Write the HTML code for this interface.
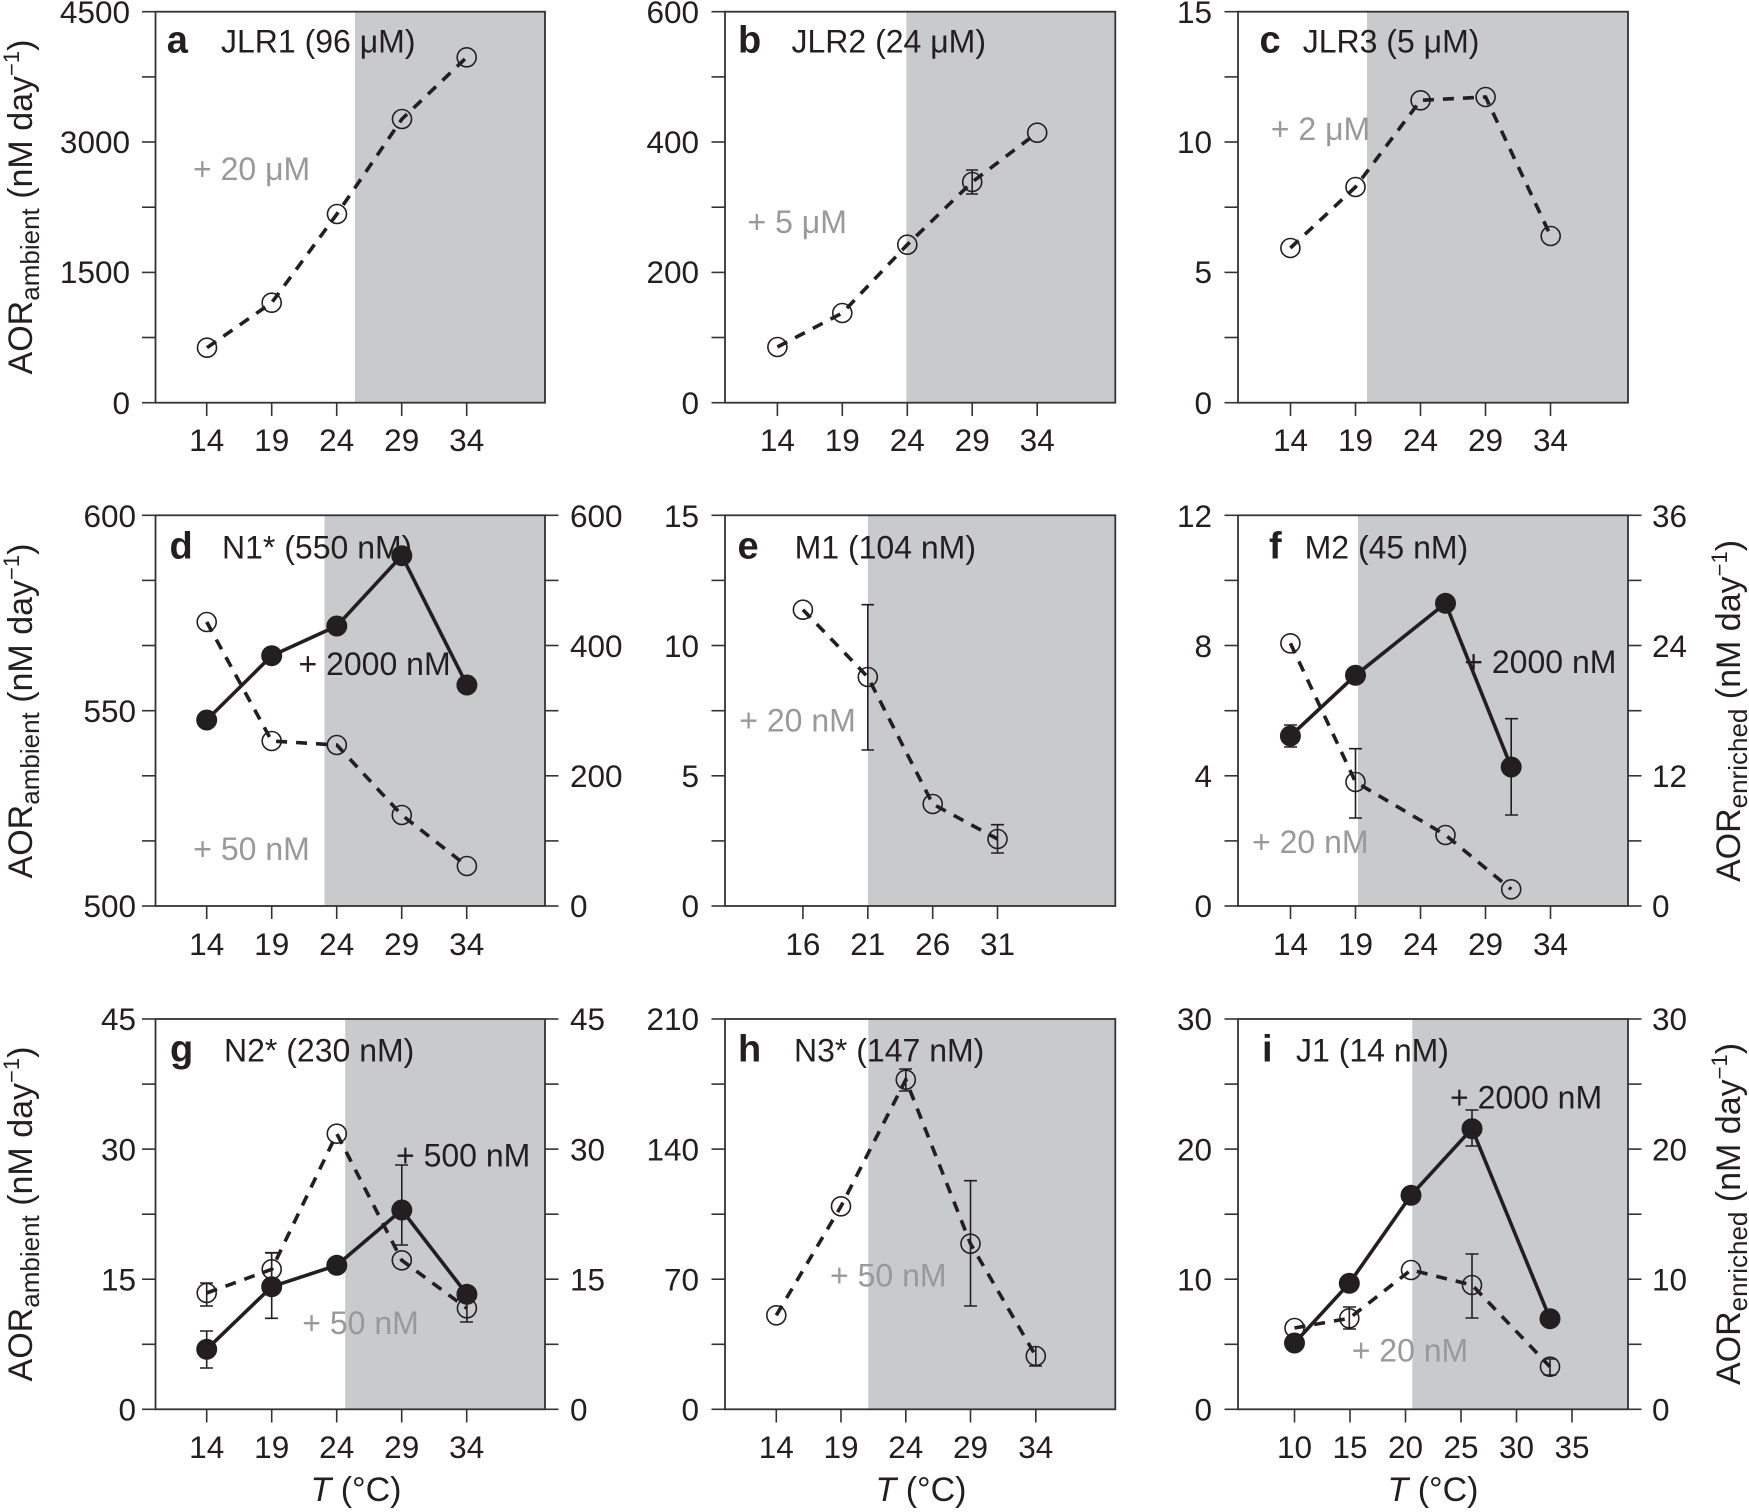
<!DOCTYPE html>
<html><head><meta charset="utf-8"><style>
html,body{margin:0;padding:0;background:#fff}
svg{display:block}
text{font-family:"Liberation Sans",Arial,sans-serif;fill:#231f20}
.tk{font-size:31.5px}
.tt{font-size:32px}
.bl{font-size:38px;font-weight:bold}
.an{font-size:32px}
.gr{fill:#999}
.ax{font-size:34px}
.fr{fill:none;stroke:#333;stroke-width:1.8}
.t{stroke:#333;stroke-width:1.6}
.sh{fill:#c9cacc}
.ds{fill:none;stroke:#231f20;stroke-width:3.6;stroke-dasharray:11 9}
.so{fill:none;stroke:#231f20;stroke-width:3.6}
.oc{fill:none;stroke:#231f20;stroke-width:1.6}
.fc{fill:#231f20}
.eb{stroke:#231f20;stroke-width:1.6;fill:none}
</style></head><body>
<svg width="1749" height="1512" viewBox="0 0 1749 1512" xmlns="http://www.w3.org/2000/svg">

<!-- ============ Row 1 ============ -->
<!-- a -->
<rect class="sh" x="355" y="11.7" width="190" height="391"/>
<rect class="fr" x="155.5" y="11.7" width="389.5" height="391"/>
<g class="t">
<line x1="142" y1="402.7" x2="155.5" y2="402.7"/><line x1="142" y1="337.5" x2="155.5" y2="337.5"/><line x1="142" y1="272.4" x2="155.5" y2="272.4"/><line x1="142" y1="207.2" x2="155.5" y2="207.2"/><line x1="142" y1="142" x2="155.5" y2="142"/><line x1="142" y1="76.9" x2="155.5" y2="76.9"/><line x1="142" y1="11.7" x2="155.5" y2="11.7"/>
<line x1="206.7" y1="402.7" x2="206.7" y2="416"/><line x1="271.7" y1="402.7" x2="271.7" y2="416"/><line x1="336.7" y1="402.7" x2="336.7" y2="416"/><line x1="401.7" y1="402.7" x2="401.7" y2="416"/><line x1="466.7" y1="402.7" x2="466.7" y2="416"/>
</g>
<g class="tk" text-anchor="end"><text x="130" y="414">0</text><text x="130" y="283">1500</text><text x="130" y="153">3000</text><text x="130" y="23">4500</text></g>
<g class="tk" text-anchor="middle"><text x="206.7" y="451">14</text><text x="271.7" y="451">19</text><text x="336.7" y="451">24</text><text x="401.7" y="451">29</text><text x="466.7" y="451">34</text></g>
<text class="bl" x="166.7" y="52.7">a</text><text class="tt" x="221" y="52.7">JLR1 (96 μM)</text>
<text class="an gr" x="193" y="180">+ 20 μM</text>
<polyline class="ds" points="207,347.7 271.7,302.7 337,214 402,119 466.7,57.3"/>
<g class="oc"><circle cx="207" cy="347.7" r="9.5"/><circle cx="271.7" cy="302.7" r="9.5"/><circle cx="337" cy="214" r="9.5"/><circle cx="402" cy="119" r="9.5"/><circle cx="466.7" cy="57.3" r="9.5"/></g>

<!-- b -->
<rect class="sh" x="906.3" y="11.7" width="209" height="391"/>
<rect class="fr" x="725" y="11.7" width="390.3" height="391"/>
<g class="t">
<line x1="711.5" y1="402.7" x2="725" y2="402.7"/><line x1="711.5" y1="337.5" x2="725" y2="337.5"/><line x1="711.5" y1="272.4" x2="725" y2="272.4"/><line x1="711.5" y1="207.2" x2="725" y2="207.2"/><line x1="711.5" y1="142" x2="725" y2="142"/><line x1="711.5" y1="76.9" x2="725" y2="76.9"/><line x1="711.5" y1="11.7" x2="725" y2="11.7"/>
<line x1="777.4" y1="402.7" x2="777.4" y2="416"/><line x1="842.3" y1="402.7" x2="842.3" y2="416"/><line x1="907.3" y1="402.7" x2="907.3" y2="416"/><line x1="972.2" y1="402.7" x2="972.2" y2="416"/><line x1="1037.2" y1="402.7" x2="1037.2" y2="416"/>
</g>
<g class="tk" text-anchor="end"><text x="699" y="414">0</text><text x="699" y="283">200</text><text x="699" y="153">400</text><text x="699" y="23">600</text></g>
<g class="tk" text-anchor="middle"><text x="777.4" y="451">14</text><text x="842.3" y="451">19</text><text x="907.3" y="451">24</text><text x="972.2" y="451">29</text><text x="1037.2" y="451">34</text></g>
<text class="bl" x="738" y="52.7">b</text><text class="tt" x="791.5" y="52.7">JLR2 (24 μM)</text>
<text class="an gr" x="747.5" y="233">+ 5 μM</text>
<polyline class="ds" points="777.4,347 842.3,313 907.3,244.7 972.2,182 1037.2,132.7"/>
<g class="oc"><circle cx="777.4" cy="347" r="9.5"/><circle cx="842.3" cy="313" r="9.5"/><circle cx="907.3" cy="244.7" r="9.5"/><circle cx="972.2" cy="182" r="9.5"/><circle cx="1037.2" cy="132.7" r="9.5"/></g>
<path class="eb" d="M972.2 170V194M966 170H978M966 194H978"/>

<!-- c -->
<rect class="sh" x="1367" y="11.7" width="261" height="391"/>
<rect class="fr" x="1238" y="11.7" width="390" height="391"/>
<g class="t">
<line x1="1224.5" y1="402.7" x2="1238" y2="402.7"/><line x1="1224.5" y1="337.5" x2="1238" y2="337.5"/><line x1="1224.5" y1="272.4" x2="1238" y2="272.4"/><line x1="1224.5" y1="207.2" x2="1238" y2="207.2"/><line x1="1224.5" y1="142" x2="1238" y2="142"/><line x1="1224.5" y1="76.9" x2="1238" y2="76.9"/><line x1="1224.5" y1="11.7" x2="1238" y2="11.7"/>
<line x1="1290.5" y1="402.7" x2="1290.5" y2="416"/><line x1="1355.5" y1="402.7" x2="1355.5" y2="416"/><line x1="1420.5" y1="402.7" x2="1420.5" y2="416"/><line x1="1485.5" y1="402.7" x2="1485.5" y2="416"/><line x1="1550.5" y1="402.7" x2="1550.5" y2="416"/>
</g>
<g class="tk" text-anchor="end"><text x="1212" y="414">0</text><text x="1212" y="283">5</text><text x="1212" y="153">10</text><text x="1212" y="23">15</text></g>
<g class="tk" text-anchor="middle"><text x="1290.5" y="451">14</text><text x="1355.5" y="451">19</text><text x="1420.5" y="451">24</text><text x="1485.5" y="451">29</text><text x="1550.5" y="451">34</text></g>
<text class="bl" x="1259.5" y="52.7">c</text><text class="tt" x="1302.7" y="52.7">JLR3 (5 μM)</text>
<text class="an gr" x="1270.8" y="140">+ 2 μM</text>
<polyline class="ds" points="1290.4,248 1355.5,187 1420.6,100.3 1485.6,97 1550.7,236"/>
<g class="oc"><circle cx="1290.4" cy="248" r="9.5"/><circle cx="1355.5" cy="187" r="9.5"/><circle cx="1420.6" cy="100.3" r="9.5"/><circle cx="1485.6" cy="97" r="9.5"/><circle cx="1550.7" cy="236" r="9.5"/></g>

<!-- row1 y label -->
<text class="ax" transform="translate(32,207) rotate(-90)" text-anchor="middle">AOR<tspan font-size="26" dy="7">ambient</tspan><tspan dy="-7"> (nM day</tspan><tspan font-size="22" dy="-13">−1</tspan><tspan dy="13">)</tspan></text>

<!-- ============ Row 2 ============ -->
<!-- d -->
<rect class="sh" x="324.5" y="515.3" width="220.5" height="390.7"/>
<rect class="fr" x="155.5" y="515.3" width="389.5" height="390.7"/>
<g class="t">
<line x1="142" y1="906" x2="155.5" y2="906"/><line x1="142" y1="840.9" x2="155.5" y2="840.9"/><line x1="142" y1="775.8" x2="155.5" y2="775.8"/><line x1="142" y1="710.7" x2="155.5" y2="710.7"/><line x1="142" y1="645.5" x2="155.5" y2="645.5"/><line x1="142" y1="580.4" x2="155.5" y2="580.4"/><line x1="142" y1="515.3" x2="155.5" y2="515.3"/>
<line x1="545" y1="906" x2="558.5" y2="906"/><line x1="545" y1="840.9" x2="558.5" y2="840.9"/><line x1="545" y1="775.8" x2="558.5" y2="775.8"/><line x1="545" y1="710.7" x2="558.5" y2="710.7"/><line x1="545" y1="645.5" x2="558.5" y2="645.5"/><line x1="545" y1="580.4" x2="558.5" y2="580.4"/><line x1="545" y1="515.3" x2="558.5" y2="515.3"/>
<line x1="206.7" y1="906" x2="206.7" y2="919"/><line x1="271.7" y1="906" x2="271.7" y2="919"/><line x1="336.7" y1="906" x2="336.7" y2="919"/><line x1="401.7" y1="906" x2="401.7" y2="919"/><line x1="466.7" y1="906" x2="466.7" y2="919"/>
</g>
<g class="tk" text-anchor="end"><text x="136" y="917">500</text><text x="136" y="722">550</text><text x="136" y="527">600</text></g>
<g class="tk"><text x="570" y="917">0</text><text x="570" y="787">200</text><text x="570" y="657">400</text><text x="570" y="527">600</text></g>
<g class="tk" text-anchor="middle"><text x="206.7" y="955">14</text><text x="271.7" y="955">19</text><text x="336.7" y="955">24</text><text x="401.7" y="955">29</text><text x="466.7" y="955">34</text></g>
<text class="bl" x="169.5" y="558.3">d</text><text class="tt" x="222" y="558.3">N1* (550 nM)</text>
<text class="an" x="298.5" y="675">+ 2000 nM</text>
<text class="an gr" x="193.3" y="860">+ 50 nM</text>
<polyline class="ds" points="206.7,622 271.7,741 336.8,745 401.8,815 466.9,866"/>
<g class="oc"><circle cx="206.7" cy="622" r="9.5"/><circle cx="271.7" cy="741" r="9.5"/><circle cx="336.8" cy="745" r="9.5"/><circle cx="401.8" cy="815" r="9.5"/><circle cx="466.9" cy="866" r="9.5"/></g>
<polyline class="so" points="206.7,720 271.7,655.7 336.8,626 401.8,555.7 466.9,685"/>
<g class="fc"><circle cx="206.7" cy="720" r="10.5"/><circle cx="271.7" cy="655.7" r="10.5"/><circle cx="336.8" cy="626" r="10.5"/><circle cx="401.8" cy="555.7" r="10.5"/><circle cx="466.9" cy="685" r="10.5"/></g>

<!-- e -->
<rect class="sh" x="867.9" y="515.3" width="247.4" height="390.7"/>
<rect class="fr" x="725" y="515.3" width="390.3" height="390.7"/>
<g class="t">
<line x1="711.5" y1="906" x2="725" y2="906"/><line x1="711.5" y1="840.9" x2="725" y2="840.9"/><line x1="711.5" y1="775.8" x2="725" y2="775.8"/><line x1="711.5" y1="710.7" x2="725" y2="710.7"/><line x1="711.5" y1="645.5" x2="725" y2="645.5"/><line x1="711.5" y1="580.4" x2="725" y2="580.4"/><line x1="711.5" y1="515.3" x2="725" y2="515.3"/>
<line x1="802.9" y1="906" x2="802.9" y2="919"/><line x1="867.8" y1="906" x2="867.8" y2="919"/><line x1="932.7" y1="906" x2="932.7" y2="919"/><line x1="997.5" y1="906" x2="997.5" y2="919"/>
</g>
<g class="tk" text-anchor="end"><text x="699" y="917">0</text><text x="699" y="787">5</text><text x="699" y="657">10</text><text x="699" y="527">15</text></g>
<g class="tk" text-anchor="middle"><text x="802.9" y="955">16</text><text x="867.8" y="955">21</text><text x="932.7" y="955">26</text><text x="997.5" y="955">31</text></g>
<text class="bl" x="737.5" y="558.3">e</text><text class="tt" x="794.6" y="558.3">M1 (104 nM)</text>
<text class="an gr" x="739.3" y="731.7">+ 20 nM</text>
<polyline class="ds" points="802.9,609.7 867.8,677 932.7,804 997.5,839"/>
<g class="oc"><circle cx="802.9" cy="609.7" r="9.5"/><circle cx="867.8" cy="677" r="9.5"/><circle cx="932.7" cy="804" r="9.5"/><circle cx="997.5" cy="839" r="9.5"/></g>
<path class="eb" d="M867.8 604.7V750M861.5 604.7H874M861.5 750H874M997.5 824.7V853M991 824.7H1004M991 853H1004"/>

<!-- f -->
<rect class="sh" x="1358" y="515.3" width="270" height="390.7"/>
<rect class="fr" x="1238" y="515.3" width="390" height="390.7"/>
<g class="t">
<line x1="1224.5" y1="906" x2="1238" y2="906"/><line x1="1224.5" y1="840.9" x2="1238" y2="840.9"/><line x1="1224.5" y1="775.8" x2="1238" y2="775.8"/><line x1="1224.5" y1="710.7" x2="1238" y2="710.7"/><line x1="1224.5" y1="645.5" x2="1238" y2="645.5"/><line x1="1224.5" y1="580.4" x2="1238" y2="580.4"/><line x1="1224.5" y1="515.3" x2="1238" y2="515.3"/>
<line x1="1628" y1="906" x2="1641.5" y2="906"/><line x1="1628" y1="840.9" x2="1641.5" y2="840.9"/><line x1="1628" y1="775.8" x2="1641.5" y2="775.8"/><line x1="1628" y1="710.7" x2="1641.5" y2="710.7"/><line x1="1628" y1="645.5" x2="1641.5" y2="645.5"/><line x1="1628" y1="580.4" x2="1641.5" y2="580.4"/><line x1="1628" y1="515.3" x2="1641.5" y2="515.3"/>
<line x1="1290.5" y1="906" x2="1290.5" y2="919"/><line x1="1355.5" y1="906" x2="1355.5" y2="919"/><line x1="1420.5" y1="906" x2="1420.5" y2="919"/><line x1="1485.5" y1="906" x2="1485.5" y2="919"/><line x1="1550.5" y1="906" x2="1550.5" y2="919"/>
</g>
<g class="tk" text-anchor="end"><text x="1212" y="917">0</text><text x="1212" y="787">4</text><text x="1212" y="657">8</text><text x="1212" y="527">12</text></g>
<g class="tk"><text x="1652" y="917">0</text><text x="1652" y="787">12</text><text x="1652" y="657">24</text><text x="1652" y="527">36</text></g>
<g class="tk" text-anchor="middle"><text x="1290.5" y="955">14</text><text x="1355.5" y="955">19</text><text x="1420.5" y="955">24</text><text x="1485.5" y="955">29</text><text x="1550.5" y="955">34</text></g>
<text class="bl" x="1269" y="558.3">f</text><text class="tt" x="1304.6" y="558.3">M2 (45 nM)</text>
<text class="an" x="1464.3" y="673">+ 2000 nM</text>
<text class="an gr" x="1252" y="853">+ 20 nM</text>
<polyline class="ds" points="1290.4,643.3 1355.5,782 1445.5,835 1511.2,889.3"/>
<g class="oc"><circle cx="1290.4" cy="643.3" r="9.5"/><circle cx="1355.5" cy="782" r="9.5"/><circle cx="1445.5" cy="835" r="9.5"/><circle cx="1511.2" cy="889.3" r="9.5"/></g>
<path class="eb" d="M1355.5 748.7V818M1349 748.7H1362M1349 818H1362"/>
<polyline class="so" points="1290.4,736 1355.5,675.3 1445.5,603.3 1511.2,767"/>
<path class="eb" d="M1290.4 725V747M1284 725H1297M1284 747H1297M1511.2 718.7V815M1505 718.7H1518M1505 815H1518"/>
<g class="fc"><circle cx="1290.4" cy="736" r="10.5"/><circle cx="1355.5" cy="675.3" r="10.5"/><circle cx="1445.5" cy="603.3" r="10.5"/><circle cx="1511.2" cy="767" r="10.5"/></g>

<text class="ax" transform="translate(32,711) rotate(-90)" text-anchor="middle">AOR<tspan font-size="26" dy="7">ambient</tspan><tspan dy="-7"> (nM day</tspan><tspan font-size="22" dy="-13">−1</tspan><tspan dy="13">)</tspan></text>
<text class="ax" transform="translate(1740,711) rotate(-90)" text-anchor="middle">AOR<tspan font-size="26" dy="7">enriched</tspan><tspan dy="-7"> (nM day</tspan><tspan font-size="22" dy="-13">−1</tspan><tspan dy="13">)</tspan></text>

<!-- ============ Row 3 ============ -->
<!-- g -->
<rect class="sh" x="345.2" y="1019" width="199.8" height="390.3"/>
<rect class="fr" x="155.5" y="1019" width="389.5" height="390.3"/>
<g class="t">
<line x1="142" y1="1409.3" x2="155.5" y2="1409.3"/><line x1="142" y1="1344.3" x2="155.5" y2="1344.3"/><line x1="142" y1="1279.2" x2="155.5" y2="1279.2"/><line x1="142" y1="1214.2" x2="155.5" y2="1214.2"/><line x1="142" y1="1149.1" x2="155.5" y2="1149.1"/><line x1="142" y1="1084.1" x2="155.5" y2="1084.1"/><line x1="142" y1="1019" x2="155.5" y2="1019"/>
<line x1="545" y1="1409.3" x2="558.5" y2="1409.3"/><line x1="545" y1="1344.3" x2="558.5" y2="1344.3"/><line x1="545" y1="1279.2" x2="558.5" y2="1279.2"/><line x1="545" y1="1214.2" x2="558.5" y2="1214.2"/><line x1="545" y1="1149.1" x2="558.5" y2="1149.1"/><line x1="545" y1="1084.1" x2="558.5" y2="1084.1"/><line x1="545" y1="1019" x2="558.5" y2="1019"/>
<line x1="206.7" y1="1409.3" x2="206.7" y2="1422.5"/><line x1="271.7" y1="1409.3" x2="271.7" y2="1422.5"/><line x1="336.7" y1="1409.3" x2="336.7" y2="1422.5"/><line x1="401.7" y1="1409.3" x2="401.7" y2="1422.5"/><line x1="466.7" y1="1409.3" x2="466.7" y2="1422.5"/>
</g>
<g class="tk" text-anchor="end"><text x="136" y="1420.5">0</text><text x="136" y="1290.4">15</text><text x="136" y="1160.3">30</text><text x="136" y="1030.2">45</text></g>
<g class="tk"><text x="570" y="1420.5">0</text><text x="570" y="1290.4">15</text><text x="570" y="1160.3">30</text><text x="570" y="1030.2">45</text></g>
<g class="tk" text-anchor="middle"><text x="206.7" y="1458">14</text><text x="271.7" y="1458">19</text><text x="336.7" y="1458">24</text><text x="401.7" y="1458">29</text><text x="466.7" y="1458">34</text></g>
<text class="bl" x="170" y="1061.7">g</text><text class="tt" x="224" y="1061.7">N2* (230 nM)</text>
<text class="an" x="396" y="1166.7">+ 500 nM</text>
<text class="an gr" x="302.3" y="1334">+ 50 nM</text>
<polyline class="ds" points="206.7,1293 271.7,1269.3 336.8,1133.7 401.8,1260.3 466.9,1308.3"/>
<g class="oc"><circle cx="206.7" cy="1293" r="9.5"/><circle cx="271.7" cy="1269.3" r="9.5"/><circle cx="336.8" cy="1133.7" r="9.5"/><circle cx="401.8" cy="1260.3" r="9.5"/><circle cx="466.9" cy="1308.3" r="9.5"/></g>
<path class="eb" d="M206.7 1283V1306M200 1283H213M200 1306H213M271.7 1253V1284M265 1253H278M466.9 1292V1322M460 1322H473"/>
<polyline class="so" points="206.7,1349.3 271.7,1286.7 336.8,1265.3 401.8,1210 466.9,1294.3"/>
<path class="eb" d="M206.7 1331V1368M200 1331H213M200 1368H213M271.7 1252.7V1318.3M265 1252.7H278M265 1318.3H278M401.8 1165V1245M395 1165H408M395 1245H408"/>
<g class="fc"><circle cx="206.7" cy="1349.3" r="10.5"/><circle cx="271.7" cy="1286.7" r="10.5"/><circle cx="336.8" cy="1265.3" r="10.5"/><circle cx="401.8" cy="1210" r="10.5"/><circle cx="466.9" cy="1294.3" r="10.5"/></g>

<!-- h -->
<rect class="sh" x="868.3" y="1019" width="247" height="390.3"/>
<rect class="fr" x="725" y="1019" width="390.3" height="390.3"/>
<g class="t">
<line x1="711.5" y1="1409.3" x2="725" y2="1409.3"/><line x1="711.5" y1="1344.3" x2="725" y2="1344.3"/><line x1="711.5" y1="1279.2" x2="725" y2="1279.2"/><line x1="711.5" y1="1214.2" x2="725" y2="1214.2"/><line x1="711.5" y1="1149.1" x2="725" y2="1149.1"/><line x1="711.5" y1="1084.1" x2="725" y2="1084.1"/><line x1="711.5" y1="1019" x2="725" y2="1019"/>
<line x1="776.3" y1="1409.3" x2="776.3" y2="1422.5"/><line x1="841" y1="1409.3" x2="841" y2="1422.5"/><line x1="905.8" y1="1409.3" x2="905.8" y2="1422.5"/><line x1="970.5" y1="1409.3" x2="970.5" y2="1422.5"/><line x1="1035.8" y1="1409.3" x2="1035.8" y2="1422.5"/>
</g>
<g class="tk" text-anchor="end"><text x="699" y="1420.5">0</text><text x="699" y="1290.4">70</text><text x="699" y="1160.3">140</text><text x="699" y="1030.2">210</text></g>
<g class="tk" text-anchor="middle"><text x="776.3" y="1458">14</text><text x="841" y="1458">19</text><text x="905.8" y="1458">24</text><text x="970.5" y="1458">29</text><text x="1035.8" y="1458">34</text></g>
<text class="bl" x="738" y="1061.7">h</text><text class="tt" x="794" y="1061.7">N3* (147 nM)</text>
<text class="an gr" x="830" y="1286.7">+ 50 nM</text>
<polyline class="ds" points="776.3,1315.3 841,1206.3 905.8,1079.7 970.5,1243.7 1035.8,1356"/>
<g class="oc"><circle cx="776.3" cy="1315.3" r="9.5"/><circle cx="841" cy="1206.3" r="9.5"/><circle cx="905.8" cy="1079.7" r="9.5"/><circle cx="970.5" cy="1243.7" r="9.5"/><circle cx="1035.8" cy="1356" r="9.5"/></g>
<path class="eb" d="M905.8 1069V1091M899 1069H912M899 1091H912M970.5 1180.7V1306M964 1180.7H977M964 1306H977M1035.8 1346V1366M1029 1366H1042"/>

<!-- i -->
<rect class="sh" x="1412.3" y="1019" width="215.7" height="390.3"/>
<rect class="fr" x="1238" y="1019" width="390" height="390.3"/>
<g class="t">
<line x1="1224.5" y1="1409.3" x2="1238" y2="1409.3"/><line x1="1224.5" y1="1344.3" x2="1238" y2="1344.3"/><line x1="1224.5" y1="1279.2" x2="1238" y2="1279.2"/><line x1="1224.5" y1="1214.2" x2="1238" y2="1214.2"/><line x1="1224.5" y1="1149.1" x2="1238" y2="1149.1"/><line x1="1224.5" y1="1084.1" x2="1238" y2="1084.1"/><line x1="1224.5" y1="1019" x2="1238" y2="1019"/>
<line x1="1628" y1="1409.3" x2="1641.5" y2="1409.3"/><line x1="1628" y1="1344.3" x2="1641.5" y2="1344.3"/><line x1="1628" y1="1279.2" x2="1641.5" y2="1279.2"/><line x1="1628" y1="1214.2" x2="1641.5" y2="1214.2"/><line x1="1628" y1="1149.1" x2="1641.5" y2="1149.1"/><line x1="1628" y1="1084.1" x2="1641.5" y2="1084.1"/><line x1="1628" y1="1019" x2="1641.5" y2="1019"/>
<line x1="1294.5" y1="1409.3" x2="1294.5" y2="1422.5"/><line x1="1350" y1="1409.3" x2="1350" y2="1422.5"/><line x1="1405.5" y1="1409.3" x2="1405.5" y2="1422.5"/><line x1="1461" y1="1409.3" x2="1461" y2="1422.5"/><line x1="1516.5" y1="1409.3" x2="1516.5" y2="1422.5"/><line x1="1572" y1="1409.3" x2="1572" y2="1422.5"/>
</g>
<g class="tk" text-anchor="end"><text x="1212" y="1420.5">0</text><text x="1212" y="1290.4">10</text><text x="1212" y="1160.3">20</text><text x="1212" y="1030.2">30</text></g>
<g class="tk"><text x="1652" y="1420.5">0</text><text x="1652" y="1290.4">10</text><text x="1652" y="1160.3">20</text><text x="1652" y="1030.2">30</text></g>
<g class="tk" text-anchor="middle"><text x="1294.5" y="1458">10</text><text x="1350" y="1458">15</text><text x="1405.5" y="1458">20</text><text x="1461" y="1458">25</text><text x="1516.5" y="1458">30</text><text x="1572" y="1458">35</text></g>
<text class="bl" x="1262" y="1061.7">i</text><text class="tt" x="1296" y="1061.7">J1 (14 nM)</text>
<text class="an" x="1450" y="1108.3">+ 2000 nM</text>
<text class="an gr" x="1351.7" y="1361.7">+ 20 nM</text>
<polyline class="ds" points="1294.5,1328 1349.3,1318.3 1411,1270 1472,1285 1550,1366.7"/>
<g class="oc"><circle cx="1294.5" cy="1328" r="9.5"/><circle cx="1349.3" cy="1318.3" r="9.5"/><circle cx="1411" cy="1270" r="9.5"/><circle cx="1472" cy="1285" r="9.5"/><circle cx="1550" cy="1366.7" r="9.5"/></g>
<path class="eb" d="M1349.3 1307V1329M1343 1307H1356M1343 1329H1356M1472 1254V1318M1465.5 1254H1478.5M1465.5 1318H1478.5M1550 1359V1375M1543.5 1359H1556.5M1543.5 1375H1556.5"/>
<polyline class="so" points="1294.5,1343 1349.3,1283.3 1411,1195.3 1472,1128.7 1550,1318.7"/>
<path class="eb" d="M1472 1110V1146M1465.5 1110H1478.5M1465.5 1146H1478.5"/>
<g class="fc"><circle cx="1294.5" cy="1343" r="10.5"/><circle cx="1349.3" cy="1283.3" r="10.5"/><circle cx="1411" cy="1195.3" r="10.5"/><circle cx="1472" cy="1128.7" r="10.5"/><circle cx="1550" cy="1318.7" r="10.5"/></g>

<text class="ax" transform="translate(32,1214) rotate(-90)" text-anchor="middle">AOR<tspan font-size="26" dy="7">ambient</tspan><tspan dy="-7"> (nM day</tspan><tspan font-size="22" dy="-13">−1</tspan><tspan dy="13">)</tspan></text>
<text class="ax" transform="translate(1740,1214) rotate(-90)" text-anchor="middle">AOR<tspan font-size="26" dy="7">enriched</tspan><tspan dy="-7"> (nM day</tspan><tspan font-size="22" dy="-13">−1</tspan><tspan dy="13">)</tspan></text>

<g class="ax" text-anchor="middle">
<text x="356" y="1501"><tspan font-style="italic">T</tspan> (°C)</text>
<text x="921" y="1501"><tspan font-style="italic">T</tspan> (°C)</text>
<text x="1433" y="1501"><tspan font-style="italic">T</tspan> (°C)</text>
</g>
</svg>
</body></html>
